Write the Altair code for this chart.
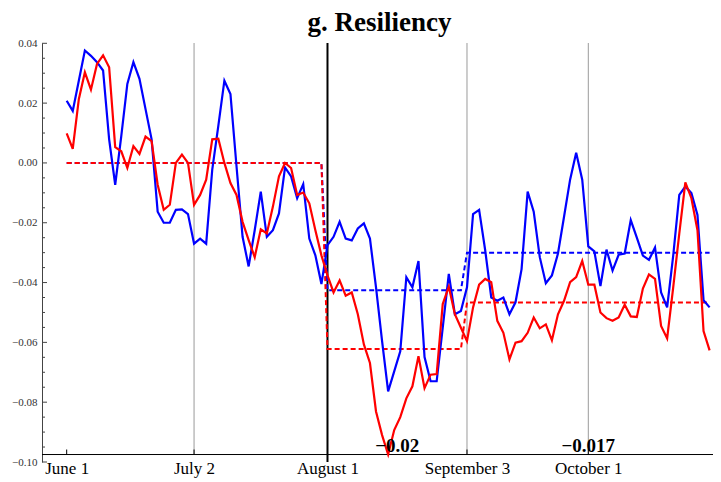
import altair as alt
import pandas as pd

# ---------------- data ----------------
blue = [0.0208, 0.0174, 0.0275, 0.0376, 0.0358, 0.0337, 0.0309, 0.0079, -0.0073, 0.0090,
        0.0264, 0.0337, 0.0281, 0.0180, 0.0079, -0.0163, -0.0200, -0.0200, -0.0157, -0.0155,
        -0.0171, -0.0270, -0.0253, -0.0270, -0.0022, 0.0124, 0.0275, 0.0230, -0.0011, -0.0247,
        -0.0346, -0.0225, -0.0096, -0.0247, -0.0225, -0.0169, -0.0015, -0.0045, -0.0118, -0.0071,
        -0.0253, -0.0309, -0.0405, -0.0275, -0.0247, -0.0197, -0.0253, -0.0259, -0.0219, -0.0202,
        -0.0253, -0.0416, -0.0596, -0.0764, -0.0697, -0.0630, -0.0382, -0.0416, -0.0328, -0.0649,
        -0.0730, -0.0730, -0.0551, -0.0371, -0.0506, -0.0495, -0.0416, -0.0171, -0.0157, -0.0292,
        -0.0450, -0.0461, -0.0450, -0.0506, -0.0466, -0.0355, -0.0096, -0.0163, -0.0315, -0.0402,
        -0.0376, -0.0303, -0.0180, -0.0056, 0.0034, -0.0056, -0.0279, -0.0296, -0.0412, -0.0290,
        -0.0360, -0.0307, -0.0303, -0.0191, -0.0250, -0.0310, -0.0324, -0.0283, -0.0433, -0.0483,
        -0.0310, -0.0107, -0.0079, -0.0101, -0.0174, -0.0459, -0.0483]

red = [0.0099, 0.0047, 0.0213, 0.0303, 0.0245, 0.0331, 0.0360, 0.0320, 0.0053, 0.0039,
       -0.0017, 0.0056, 0.0030, 0.0088, 0.0073, -0.0073, -0.0157, -0.0140, 0.0000, 0.0028,
       0.0000, -0.0140, -0.0107, -0.0056, 0.0079, 0.0081, 0.0000, -0.0067, -0.0107, -0.0197,
       -0.0258, -0.0315, -0.0222, -0.0236, -0.0146, -0.0045, 0.0000, -0.0017, -0.0107, -0.0099,
       -0.0135, -0.0225, -0.0309, -0.0376, -0.0433, -0.0393, -0.0444, -0.0433, -0.0506, -0.0607,
       -0.0669, -0.0831, -0.0910, -0.0975, -0.0893, -0.0850, -0.0787, -0.0747, -0.0646, -0.0753,
       -0.0708, -0.0706, -0.0472, -0.0414, -0.0506, -0.0551, -0.0596, -0.0483, -0.0407, -0.0388,
       -0.0399, -0.0528, -0.0568, -0.0657, -0.0601, -0.0596, -0.0568, -0.0517, -0.0553, -0.0540,
       -0.0593, -0.0506, -0.0461, -0.0399, -0.0382, -0.0328, -0.0407, -0.0407, -0.0500, -0.0519,
       -0.0528, -0.0517, -0.0474, -0.0513, -0.0515, -0.0420, -0.0373, -0.0388, -0.0545, -0.0587,
       -0.0416, -0.0236, -0.0065, -0.0118, -0.0225, -0.0562, -0.0627]

# regime means (dashed step lines)
regime_start = [0, 43, 66]
regime_end = [42, 65, 106]
blue_level = [0.0, -0.0426, -0.0300]
red_level = [0.0, -0.0622, -0.0467]
diff_labels = ["\u22120.02", "\u22120.017"]
diff_pos = [54.5, 86]

# x axis: trading-day index of each labelled date
tick_pos = [0, 21, 43, 66, 86]
tick_labels = ["June 1", "July 2", "August 1", "September 3", "October 1"]
gray_lines = [21, 66, 86]
black_lines = [43]

ytick_major = [0.04, 0.02, 0.0, -0.02, -0.04, -0.06, -0.08, -0.10]
ytick_minor = [0.035, 0.03, 0.025, 0.015, 0.01, 0.005, -0.005, -0.01, -0.015,
               -0.025, -0.03, -0.035, -0.045, -0.05, -0.055, -0.065, -0.07, -0.075,
               -0.085, -0.09, -0.095]

# ---------------- layout constants ----------------
XMIN, XMAX = -4.07, 106.56
YMIN, YMAX = -0.10, 0.0401
X_AXIS_LEVEL = -0.0975
W, H = 671, 419
PX_X = W / (XMAX - XMIN)
PX_Y = H / (YMAX - YMIN)
SERIF = "Liberation Serif"

xs = alt.Scale(domain=[XMIN, XMAX], nice=False, zero=False)
ys = alt.Scale(domain=[YMIN, YMAX], nice=False, zero=False)

n = len(blue)
idx = list(range(n))
df_blue = pd.DataFrame({"i": idx, "v": blue})
df_red = pd.DataFrame({"i": idx, "v": red})


def steps(levels):
    rows = []
    for s, e, l in zip(regime_start, regime_end, levels):
        rows.append({"i": s, "v": l})
        rows.append({"i": e, "v": l})
    return pd.DataFrame(rows)


df_bdash = steps(blue_level)
df_rdash = steps(red_level)

label_expr = ""
for p, t in zip(tick_pos, tick_labels):
    label_expr += f"datum.value == {p} ? '{t}' : "
label_expr += "''"

x_axis = alt.Axis(values=tick_pos, labelExpr=label_expr, domain=False, ticks=False,
                  tickSize=0, grid=False, title=None, labelFont=SERIF, labelFontSize=17,
                  labelColor="black", labelBaseline="alphabetic", labelPadding=11.5,
                  labelFlush=False, labelOverlap=False)
y_axis = alt.Axis(values=ytick_major, format=".2f", domain=True, domainColor="#444",
                  domainWidth=1, ticks=False, tickSize=0, grid=False, title=None,
                  labelFont=SERIF, labelFontSize=11, labelColor="#333", labelPadding=5)


def X():
    return alt.X("i:Q", scale=xs, axis=x_axis)


def Y():
    return alt.Y("v:Q", scale=ys, axis=y_axis)


# vertical reference lines
df_gray = pd.DataFrame({"i": gray_lines, "v": [X_AXIS_LEVEL] * len(gray_lines),
                        "v2": [YMAX] * len(gray_lines)})
df_black = pd.DataFrame({"i": black_lines, "v": [YMIN] * len(black_lines),
                         "v2": [YMAX] * len(black_lines)})
gray = alt.Chart(df_gray).mark_rule(color="#9a9a9a", strokeWidth=1).encode(
    x=X(), y=Y(), y2=alt.Y2("v2:Q"))
black = alt.Chart(df_black).mark_rule(color="black", strokeWidth=2).encode(
    x=X(), y=Y(), y2=alt.Y2("v2:Q"))

# x axis line and its inward ticks
df_xline = pd.DataFrame({"i": [XMIN], "i2": [XMAX], "v": [X_AXIS_LEVEL]})
xline = alt.Chart(df_xline).mark_rule(color="black", strokeWidth=1).encode(
    x=X(), x2=alt.X2("i2:Q"), y=Y())
xt = [p for p in tick_pos if p not in black_lines]
df_xt = pd.DataFrame({"i": xt, "v": [X_AXIS_LEVEL] * len(xt),
                      "v2": [X_AXIS_LEVEL + 5 / PX_Y] * len(xt)})
xticks = alt.Chart(df_xt).mark_rule(color="black", strokeWidth=1).encode(
    x=X(), y=Y(), y2=alt.Y2("v2:Q"))

# y axis inward ticks
df_ymaj = pd.DataFrame({"i": [XMIN] * len(ytick_major),
                        "i2": [XMIN + 5 / PX_X] * len(ytick_major), "v": ytick_major})
df_ymin = pd.DataFrame({"i": [XMIN] * len(ytick_minor),
                        "i2": [XMIN + 3 / PX_X] * len(ytick_minor), "v": ytick_minor})
ymaj = alt.Chart(df_ymaj).mark_rule(color="#444", strokeWidth=1).encode(
    x=X(), x2=alt.X2("i2:Q"), y=Y())
ymin = alt.Chart(df_ymin).mark_rule(color="#444", strokeWidth=1).encode(
    x=X(), x2=alt.X2("i2:Q"), y=Y())

bdash = alt.Chart(df_bdash).mark_line(color="#0000ff", strokeWidth=2,
                                      strokeDash=[5, 3]).encode(x=X(), y=Y(), order="i:Q")
rdash = alt.Chart(df_rdash).mark_line(color="#ff0000", strokeWidth=2,
                                      strokeDash=[5, 3]).encode(x=X(), y=Y(), order="i:Q")
bline = alt.Chart(df_blue).mark_line(color="#0000ff", strokeWidth=2.2).encode(x=X(), y=Y())
rline = alt.Chart(df_red).mark_line(color="#ff0000", strokeWidth=2.2).encode(x=X(), y=Y())

# difference annotations centred in the two post-break regimes
df_txt = pd.DataFrame({"i": diff_pos, "v": [-0.0968, -0.0968], "t": diff_labels})
txt = alt.Chart(df_txt).mark_text(font=SERIF, fontSize=19, fontWeight="bold", color="black",
                                  baseline="alphabetic", align="center").encode(
    x=X(), y=Y(), text="t:N")

chart = alt.layer(gray, black, ymaj, ymin, xline, xticks, bdash, rdash, bline, rline, txt).properties(
    width=W, height=H,
    autosize=alt.AutoSizeParams(type="none"),
    padding={"left": 34, "top": 35, "right": 0, "bottom": 22},
    title=alt.TitleParams(text="g. Resiliency", font=SERIF, fontSize=27, fontWeight="bold",
                          anchor="middle", offset=-21, baseline="alphabetic", dx=2, color="black"),
).configure_view(stroke=None)

chart.save("out.html", embed_options={"renderer": "svg", "actions": False})
